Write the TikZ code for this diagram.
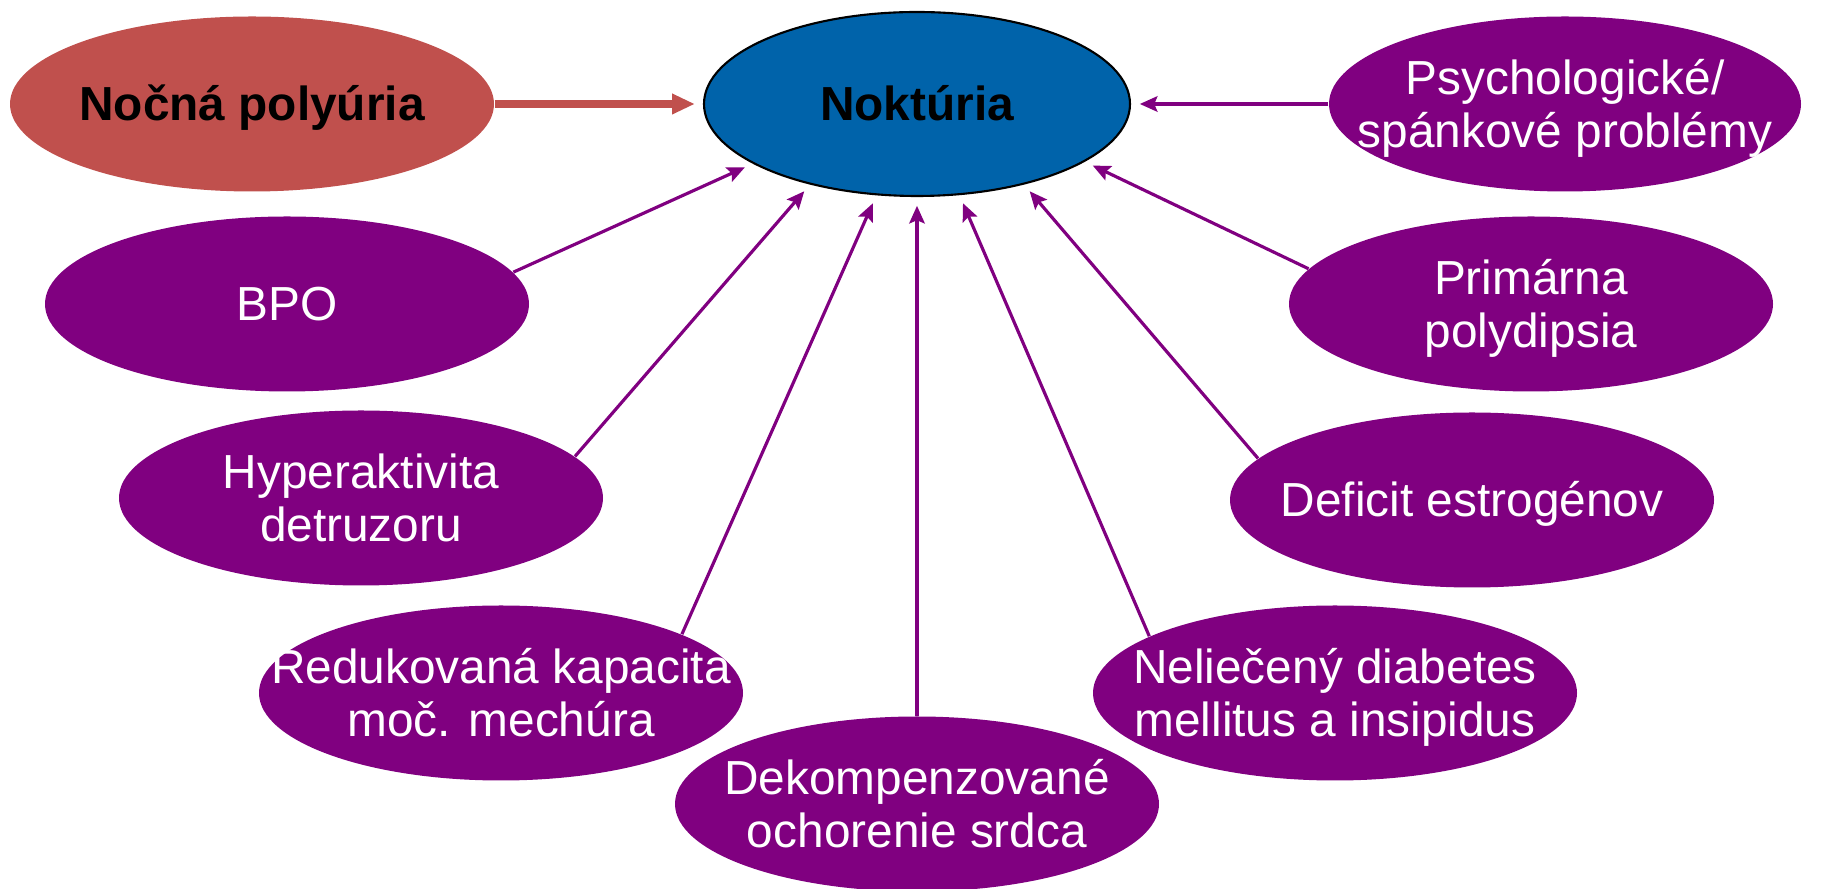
\documentclass[tikz,border=0pt]{standalone}
\usepackage{fontspec}
\setmainfont{Liberation Sans}
\usetikzlibrary{shapes.geometric,arrows.meta}
\definecolor{causepurple}{RGB}{128,0,128}
\definecolor{polyred}{RGB}{192,80,77}
\definecolor{noctblue}{RGB}{0,99,170}
\newcommand{\ovaltext}[1]{\raisebox{-1.8pt}[\height][\depth]{\makebox[0pt]{\begin{tabular}{@{}c@{}}#1\end{tabular}}}}

\begin{document}
\begin{tikzpicture}[
  oval/.style={ellipse, inner sep=0pt, minimum width=4.84cm, minimum height=1.75cm, font=\fontsize{13.6}{15}\selectfont},
  cause/.style={oval, fill=causepurple, text=white},
  causearrow/.style={draw=causepurple, line width=0.9pt, -{Stealth[length=5pt,width=4.4pt,inset=0.9pt]}, shorten >=2.5pt},
  polyarrow/.style={draw=polyred, line width=2pt, -{Triangle[length=6.5pt,width=5.5pt]}, shorten >=2.3pt}
]
\useasboundingbox (0,0) rectangle (18.24,8.89);

% Top row
\node[oval, fill=polyred, font=\fontsize{13.6}{15}\selectfont\bfseries] (noc) at (2.52, 7.85) {\ovaltext{Nočná polyúria}};
\node[oval, fill=noctblue, draw=black, line width=0.6pt, minimum width=4.26cm, minimum height=1.84cm, font=\fontsize{13.6}{15}\selectfont\bfseries] (nok) at (9.17, 7.85) {\ovaltext{Noktúria}};
\node[cause, minimum width=4.72cm] (psy) at (15.65, 7.85) {\ovaltext{Psychologické/\\spánkové problémy}};

% Causes
\node[cause] (bpo) at (2.87, 5.85) {\ovaltext{BPO}};
\node[cause] (pri) at (15.31, 5.85) {\ovaltext{Primárna\\polydipsia}};
\node[cause] (hyp) at (3.61, 3.91) {\ovaltext{Hyperaktivita\\detruzoru}};
\node[cause] (def) at (14.72, 3.89) {\ovaltext{Deficit estrogénov}};
\node[cause] (red) at (5.01, 1.96) {\ovaltext{Redukovaná kapacita\\moč. mechúra}};
\node[cause] (nel) at (13.35, 1.96) {\ovaltext{Neliečený diabetes\\mellitus a insipidus}};
\node[cause] (dek) at (9.17, 0.85) {\ovaltext{Dekompenzované\\ochorenie srdca}};

% Arrows into the centre
\draw[polyarrow] (noc.east) -- (nok.west);
\draw[causearrow] (psy.west) -- (nok.east);
\draw[causearrow] (bpo.8) -- (nok.200);
\draw[causearrow] (hyp.11) -- (nok.217);
\draw[causearrow] (red.18) -- (nok.246);
\draw[causearrow] (dek.north) -- (nok.south);
\draw[causearrow] (nel.163) -- (nok.295);
\draw[causearrow] (def.169) -- (nok.323);
\draw[causearrow] (pri.171) -- (nok.341);
\end{tikzpicture}
\end{document}
